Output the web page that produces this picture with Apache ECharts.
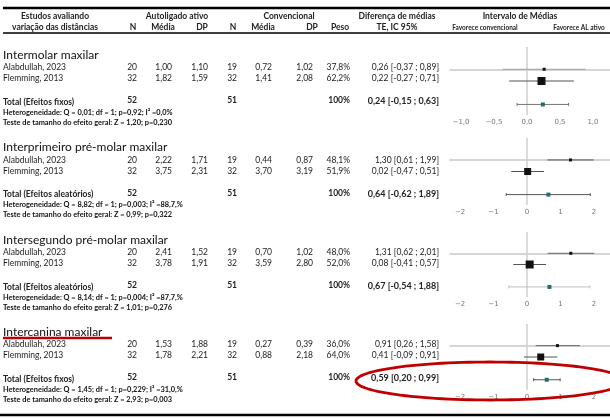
<!DOCTYPE html>
<html>
<head>
<meta charset="utf-8">
<script src="https://cdn.jsdelivr.net/npm/echarts@6/dist/echarts.min.js"></script>
<style>html,body{margin:0;padding:0;background:#fff}#c{width:610px;height:418px}</style>
</head>
<body>
<div id="c"></div>
<script>
// ---- data ----
const sections = ['Intermolar maxilar', 'Interprimeiro pré-molar maxilar', 'Intersegundo pré-molar maxilar', 'Intercanina maxilar'];
const studies = ['Alabdullah, 2023', 'Flemming, 2013'];
const alN = [20, 32];
const convN = [19, 32];
const alMean = [[1.00, 1.82], [2.22, 3.75], [2.41, 3.78], [1.53, 1.78]];
const alSD = [[1.10, 1.59], [1.71, 2.31], [1.52, 1.91], [1.88, 2.21]];
const convMean = [[0.72, 1.41], [0.44, 3.70], [0.70, 3.59], [0.27, 0.88]];
const convSD = [[1.02, 2.08], [0.87, 3.19], [1.02, 2.80], [0.39, 2.18]];
const weights = [[37.8, 62.2], [48.1, 51.9], [48.0, 52.0], [36.0, 64.0]];
const te = [[0.26, 0.22], [1.30, 0.02], [1.31, 0.08], [0.91, 0.41]];
const ciLo = [[-0.37, -0.27], [0.61, -0.47], [0.62, -0.41], [0.26, -0.09]];
const ciHi = [[0.89, 0.71], [1.99, 0.51], [2.01, 0.57], [1.58, 0.91]];
const totN = [52, 51];
const totTE = [0.24, 0.64, 0.67, 0.59];
const totLo = [-0.15, -0.62, -0.54, 0.20];
const totHi = [0.63, 1.89, 1.88, 0.99];
const totalLabels = ['Total (Efeitos fixos)', 'Total (Efeitos aleatórios)', 'Total (Efeitos aleatórios)', 'Total (Efeitos fixos)'];
const hetQ = ['0,01', '8,82', '8,14', '1,45'];
const hetP = ['0,92', '0,003', '0,004', '0,229'];
const hetI2 = ['0,0%', '88,7,%', '87,7,%', '31,0,%'];
const testZ = ['1,20', '0,99', '1,01', '2,93'];
const testP = ['0,230', '0,322', '0,276', '0,003'];
const tickLabels1 = [-1, -0.5, 0, 0.5, 1];
const tickLabels2 = [-2, -1, 0, 1, 2];

// ---- styles / layout ----
const FONT = 'Lato, "Noto Sans", sans-serif';
const markerSize = [[3, 8], [3, 7], [3, 8], [3, 7]];
const studyLineColor = [['#a0a0a0', '#555'], ['#555', '#555'], ['#666', '#555'], ['#666', '#555']];
const totalLineColor = ['#777', '#555', '#bdbdbd', '#555'];
const headY = [55, 147.5, 240, 332];
const plotTop = [47, 138, 232, 324];
const plotH = [68, 67, 65, 66];
const xRange = [[-1.167, 1.258], [-2.30, 2.48], [-2.30, 2.48], [-2.30, 2.48]];

const fmt = v => v.toFixed(2).replace('.', ',');
const fmtCI = (v, l, h) => fmt(v) + ' [' + fmt(l) + ' ; ' + fmt(h) + ']';

const g = [];
function txt(s, x, y, opt) {
  opt = opt || {};
  g.push({type: 'text', silent: true, style: {
    text: s, x: x, y: y, fill: opt.color || '#222',
    font: (opt.weight || 'normal') + ' ' + (opt.size || 9) + 'px ' + FONT,
    textAlign: opt.align || 'left', textVerticalAlign: 'middle'}});
}
function hline(x1, x2, y, w, c) {
  g.push({type: 'line', silent: true, shape: {x1: x1, y1: y, x2: x2, y2: y}, style: {stroke: c || '#000', lineWidth: w}});
}
// rules
hline(3, 610, 8, 2.5);
hline(3, 610, 33, 1.5);
hline(0, 610, 415, 2.5);
// headers
const hb = {weight: 'bold', size: 8.5};
txt('Estudos avaliando', 55, 16, Object.assign({align: 'center'}, hb));
txt('variação das distâncias', 55, 27, Object.assign({align: 'center'}, hb));
txt('Autoligado ativo', 177, 16, Object.assign({align: 'center'}, hb));
txt('Convencional', 289, 16, Object.assign({align: 'center'}, hb));
txt('Diferença de médias', 397, 16, Object.assign({align: 'center'}, hb));
txt('TE, IC 95%', 397, 27, Object.assign({align: 'center'}, hb));
txt('Intervalo de Médias', 520, 16, Object.assign({align: 'center'}, hb));
txt('Favorece convencional', 485, 28, {align: 'center', size: 6.5, weight: 'bold'});
txt('Favorece AL ativo', 579, 28, {align: 'center', size: 6.5, weight: 'bold'});
const hdrCols = [['N', 133], ['Média', 163], ['DP', 202], ['N', 233], ['Média', 263], ['DP', 312], ['Peso', 340]];
hdrCols.forEach(h => txt(h[0], h[1], 27, Object.assign({align: 'center'}, hb)));

// column right edges
const cN1 = 137, cM1 = 172, cD1 = 208, cN2 = 237, cM2 = 272, cD2 = 313, cW = 350, cTE = 439;
sections.forEach((name, s) => {
  const y0 = headY[s];
  txt(name, 3, y0, {size: 12, weight: 'normal', color: '#111'});
  studies.forEach((st, i) => {
    const y = y0 + 12.5 + i * 11;
    txt(st, 3, y, {size: 8.5});
    txt(String(alN[i]), cN1, y, {align: 'right', size: 8.5});
    txt(fmt(alMean[s][i]), cM1, y, {align: 'right', size: 8.5});
    txt(fmt(alSD[s][i]), cD1, y, {align: 'right', size: 8.5});
    txt(String(convN[i]), cN2, y, {align: 'right', size: 8.5});
    txt(fmt(convMean[s][i]), cM2, y, {align: 'right', size: 8.5});
    txt(fmt(convSD[s][i]), cD2, y, {align: 'right', size: 8.5});
    txt(weights[s][i].toFixed(1).replace('.', ',') + '%', cW, y, {align: 'right', size: 8.5});
    txt(fmtCI(te[s][i], ciLo[s][i], ciHi[s][i]), cTE, y, {align: 'right', size: 8.5});
  });
  const yt = y0 + 46.5;
  txt(totalLabels[s], 3, yt + 0.5, {size: 8.5, weight: 'bold'});
  txt(String(totN[0]), cN1, yt - 1, {align: 'right', size: 8.5, weight: 'bold'});
  txt(String(totN[1]), cN2, yt - 1, {align: 'right', size: 8.5, weight: 'bold'});
  txt('100%', cW, yt - 1, {align: 'right', size: 8.5, weight: 'bold'});
  txt(fmtCI(totTE[s], totLo[s], totHi[s]), cTE, yt, {align: 'right', size: 9, weight: 'bold'});
  txt('Heterogeneidade: Q = ' + hetQ[s] + '; df = 1; p=' + hetP[s] + '; I\u00b2 =' + hetI2[s], 3, y0 + 57.5, {size: 7.4, weight: 'bold', color: '#111'});
  txt('Teste de tamanho do efeito geral: Z = ' + testZ[s] + '; p=' + testP[s], 3, y0 + 67.5, {size: 7.4, weight: 'bold', color: '#111'});
});
// red annotations
hline(3, 112, 338, 2.5, '#c00000');
const ell = [];
for (let k = 0; k <= 120; k++) {
  const a = k / 120 * Math.PI * 2;
  ell.push([490 + 134 * Math.cos(a), 381 + 19 * Math.sin(a)]);
}
g.push({type: 'polygon', silent: true, z: 100, shape: {points: ell}, style: {fill: 'none', stroke: '#c00000', lineWidth: 2.8}});

// ---- forest plots ----
const grids = [], xAxes = [], yAxes = [], series = [];
sections.forEach((name, s) => {
  grids.push({left: 450, right: 0, top: plotTop[s], height: plotH[s], containLabel: false});
  const ticks = s === 0 ? tickLabels1 : tickLabels2;
  xAxes.push({type: 'value', gridIndex: s, min: xRange[s][0], max: xRange[s][1],
    axisLine: {show: true, lineStyle: {color: '#c8c8c8', width: 1.5}},
    axisTick: {show: false}, splitLine: {show: false},
    axisLabel: {customValues: ticks, color: '#777', fontSize: 7, margin: 4, fontFamily: 'DejaVu Sans',
      formatter: v => (v < 0 ? '\u2212' : '') + (s === 0 ? Math.abs(v).toFixed(1).replace('.', ',') : String(Math.abs(v)))}});
  yAxes.push({type: 'value', gridIndex: s, inverse: true, min: -1.9, max: 3.9, show: false});
  // zero line
  series.push({type: 'line', xAxisIndex: s, yAxisIndex: s, data: [[0, -1.9], [0, 3.9]], symbol: 'none', silent: true,
    lineStyle: {color: '#cfcfcf', width: 1.5}, z: 1});
  const data = [];
  studies.forEach((st, i) => data.push([i, te[s][i], ciLo[s][i], ciHi[s][i], markerSize[s][i], 0, i]));
  data.push([3, totTE[s], totLo[s], totHi[s], 4, 1, 2]);
  series.push({type: 'custom', xAxisIndex: s, yAxisIndex: s, data: data, silent: true, z: 3,
    renderItem: function (params, api) {
      const y = api.value(0), v = api.value(1), l = api.value(2), h = api.value(3), sz = api.value(4), kind = api.value(5), idx = api.value(6);
      const pl = api.coord([l, y]), ph = api.coord([h, y]), pv = api.coord([v, y]);
      const col = kind === 1 ? totalLineColor[s] : studyLineColor[s][idx];
      const ch = [{type: 'line', shape: {x1: pl[0], y1: pl[1], x2: ph[0], y2: ph[1]}, style: {stroke: col, lineWidth: 1}}];
      if (kind === 1) {
        ch.push({type: 'line', shape: {x1: pl[0], y1: pl[1] - 1.5, x2: pl[0], y2: pl[1] + 1.5}, style: {stroke: col, lineWidth: 1}});
        ch.push({type: 'line', shape: {x1: ph[0], y1: ph[1] - 1.5, x2: ph[0], y2: ph[1] + 1.5}, style: {stroke: col, lineWidth: 1}});
      }
      ch.push({type: 'rect', shape: {x: pv[0] - sz / 2, y: pv[1] - sz / 2, width: sz, height: sz},
        style: {fill: kind === 1 ? '#1f6e6e' : '#111'}});
      return {type: 'group', children: ch};
    }});
});

const chart = echarts.init(document.getElementById('c'), null, {renderer: 'canvas'});
chart.setOption({animation: false, backgroundColor: '#fff', grid: grids, xAxis: xAxes, yAxis: yAxes, series: series, graphic: {elements: g}});
</script>
</body>
</html>
